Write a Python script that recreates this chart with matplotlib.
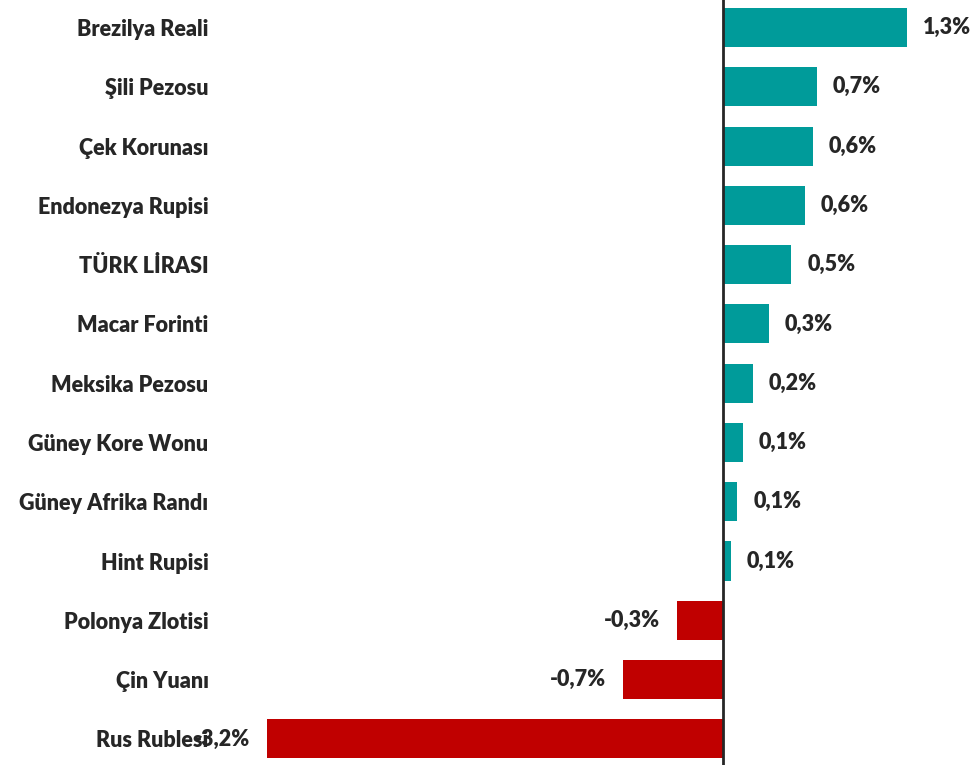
import matplotlib
matplotlib.use("Agg")
import matplotlib.pyplot as plt

# kur degisimleri (%), yukaridan asagiya
currencies = ["Brezilya Reali", "Şili Pezosu", "Çek Korunası", "Endonezya Rupisi",
              "TÜRK LİRASI", "Macar Forinti", "Meksika Pezosu", "Güney Kore Wonu",
              "Güney Afrika Randı", "Hint Rupisi", "Polonya Zlotisi", "Çin Yuanı",
              "Rus Rublesi"]
changes = [1.29, 0.66, 0.63, 0.575, 0.48, 0.32, 0.21, 0.14, 0.10, 0.056, -0.32, -0.70, -3.2]

pos_color = "#009B9A"
neg_color = "#C00000"
txt_color = "#262626"

plt.rcParams['font.family'] = ['Lato', 'DejaVu Sans']
fw = "heavy"
fs = 15.5

fig = plt.figure(figsize=(9.8, 7.65), dpi=100)
ax = fig.add_axes([260 / 980, 0, 720 / 980, 1])

y = list(range(len(currencies)))
colors = [pos_color if v >= 0 else neg_color for v in changes]
ax.barh(y, changes, height=0.66, color=colors)

px = 142.5  # piksel / %1
ax.set_xlim((260 - 723) / px, (980 - 723) / px)
ax.set_ylim(12.44, -0.464)

ax.axvline(0, color=txt_color, lw=2)

for yi, v in zip(y, changes):
    lab = f"{v:.1f}".replace(".", ",") + "%"
    if v >= 0:
        ax.annotate(lab, (v, yi), xytext=(16, 0), textcoords="offset pixels",
                    ha="left", va="center", fontsize=fs, fontweight=fw, color=txt_color)
    else:
        ax.annotate(lab, (v, yi), xytext=(-17, 0), textcoords="offset pixels",
                    ha="right", va="center", fontsize=fs, fontweight=fw, color=txt_color)

ax.set_yticks(y)
ax.set_yticklabels(currencies, fontsize=fs, fontweight=fw, color=txt_color)
ax.tick_params(axis="y", length=0, pad=37)
ax.set_xticks([])
for s in ax.spines.values():
    s.set_visible(False)

fig.savefig("out.png", dpi=100, facecolor="white")
